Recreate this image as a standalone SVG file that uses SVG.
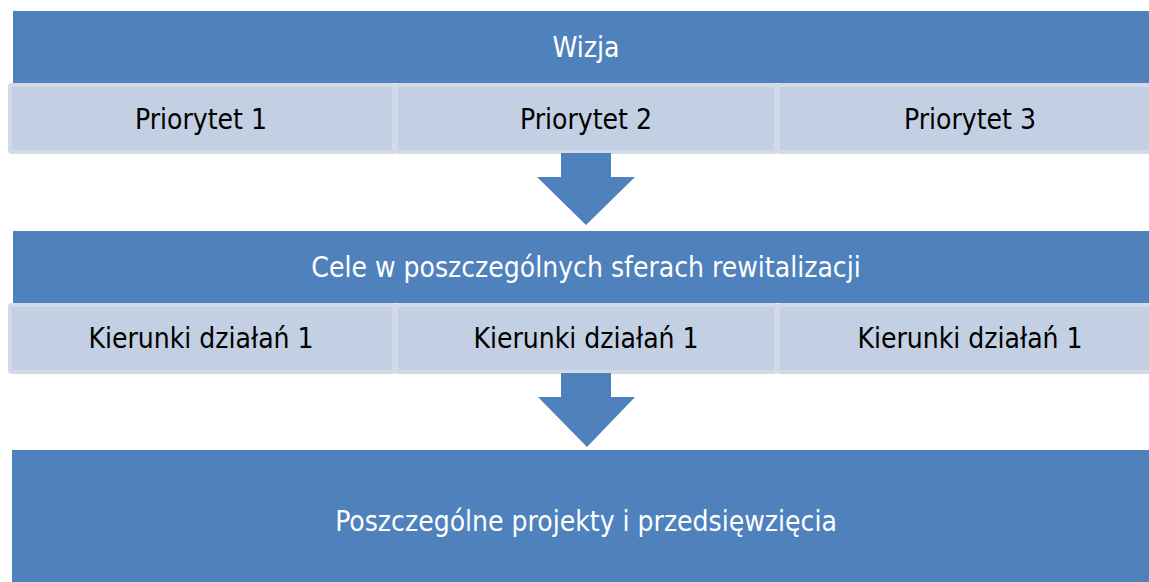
<svg xmlns="http://www.w3.org/2000/svg" width="1149" height="582" viewBox="0 0 1149 582">
<style>
.bar{fill:#4f81bd}
.cell{fill:#c3cfe2;stroke:#d2dae8;stroke-width:4}
.arr{fill:#4f81bd}
text{font-family:"DejaVu Sans Condensed","DejaVu Sans",sans-serif;font-size:28px;text-anchor:middle;dominant-baseline:central}
.w{fill:#ffffff}
.k{fill:#000000}
</style>
<rect x="0" y="0" width="1149" height="582" fill="#ffffff"/>
<g id="wizja"><rect class="bar" x="13" y="11" width="1136" height="72"/><text class="w" x="586" y="47">Wizja</text></g>
<g id="p1"><rect class="cell" x="10" y="85" width="384" height="67" rx="2"/><text class="k" x="201" y="119">Priorytet 1</text></g>
<g id="p2"><rect class="cell" x="396" y="85" width="380" height="67" rx="2"/><text class="k" x="586" y="119">Priorytet 2</text></g>
<g id="p3"><rect class="cell" x="778" y="85" width="373" height="67" rx="2"/><text class="k" x="970" y="119">Priorytet 3</text></g>
<g id="cele"><rect class="bar" x="13" y="231" width="1136" height="72"/><text class="w" x="586" y="267">Cele w poszczególnych sferach rewitalizacji</text></g>
<g id="k1"><rect class="cell" x="10" y="305" width="384" height="67" rx="2"/><text class="k" x="201" y="338">Kierunki działań 1</text></g>
<g id="k2"><rect class="cell" x="396" y="305" width="380" height="67" rx="2"/><text class="k" x="586" y="338">Kierunki działań 1</text></g>
<g id="k3"><rect class="cell" x="778" y="305" width="373" height="67" rx="2"/><text class="k" x="970" y="338">Kierunki działań 1</text></g>
<g id="projekty"><rect class="bar" x="12" y="450" width="1137" height="132"/><text class="w" x="586" y="521">Poszczególne projekty i przedsięwzięcia</text></g>
<g id="connectors">
<path class="arr" d="M561,153 H611 V177 H635 L586,225 L537,177 H561 Z"/>
<path class="arr" d="M561,373 H611 V397 H635 L587,447 L538,397 H561 Z"/>
</g>
</svg>
